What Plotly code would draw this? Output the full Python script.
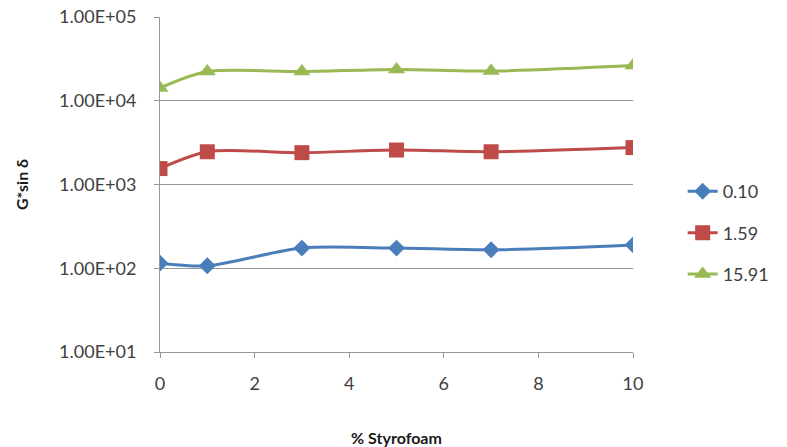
import plotly.graph_objects as go

styrofoam = [0, 1, 3, 5, 7, 10]
series_names = ["0.10", "1.59", "15.91"]
g_010 = [115, 107, 174, 174, 166, 190]
g_159 = [1550, 2460, 2400, 2580, 2460, 2760]
g_1591 = [14200, 22300, 22300, 23600, 22600, 26300]
ytick_vals = [10, 100, 1000, 10000, 100000]
ytick_text = ["1.00E+01", "1.00E+02", "1.00E+03", "1.00E+04", "1.00E+05"]
xtick_vals = [0, 2, 4, 6, 8, 10]

colors = ["#4a7ebb", "#be4b48", "#98b954"]
symbols = ["diamond", "square", "triangle-up"]
sizes = [13, 15, 15]

fig = go.Figure()
for i, (name, vals) in enumerate(zip(series_names, [g_010, g_159, g_1591])):
    fig.add_trace(go.Scatter(
        x=styrofoam, y=vals, name=name, mode="lines+markers",
        line=dict(color=colors[i], width=3, shape="spline", smoothing=0.8),
        marker=dict(symbol=symbols[i], size=sizes[i], color=colors[i]),
        legendgroup=name,
    ))

font_family = "Lato, Open Sans, sans-serif"
fig.update_layout(
    width=787, height=447,
    margin=dict(l=160, r=152, t=17, b=95),
    plot_bgcolor="white", paper_bgcolor="white",
    font=dict(family=font_family, size=18, color="#404040"),
    showlegend=True,
    legend=dict(x=1.105, y=0.355, xanchor="left", yanchor="middle",
                font=dict(size=18, color="#404040"), tracegroupgap=15,
                bgcolor="rgba(0,0,0,0)"),
    xaxis=dict(range=[0, 10], tickvals=xtick_vals, showgrid=False, automargin=False,
               showline=True, linecolor="#969696", linewidth=1,
               ticks="outside", ticklen=5, tickcolor="#969696",
               tickfont=dict(size=18), zeroline=False, ticklabelstandoff=10,
               title=dict(text="<b>% Styrofoam</b>", font=dict(size=16, color="#1a1a1a"), standoff=40)),
    yaxis=dict(type="log", range=[1, 5], tickvals=ytick_vals, ticktext=ytick_text,
               showgrid=True, gridcolor="#969696", gridwidth=1, automargin=False,
               showline=True, linecolor="#969696", linewidth=1,
               ticks="outside", ticklen=5, tickcolor="#969696",
               tickfont=dict(size=18), zeroline=False, ticklabelstandoff=14,
               title=dict(text="<b>G*sin δ</b>", font=dict(size=16, color="#1a1a1a"), standoff=26)),
)

fig.write_html("out.html")
